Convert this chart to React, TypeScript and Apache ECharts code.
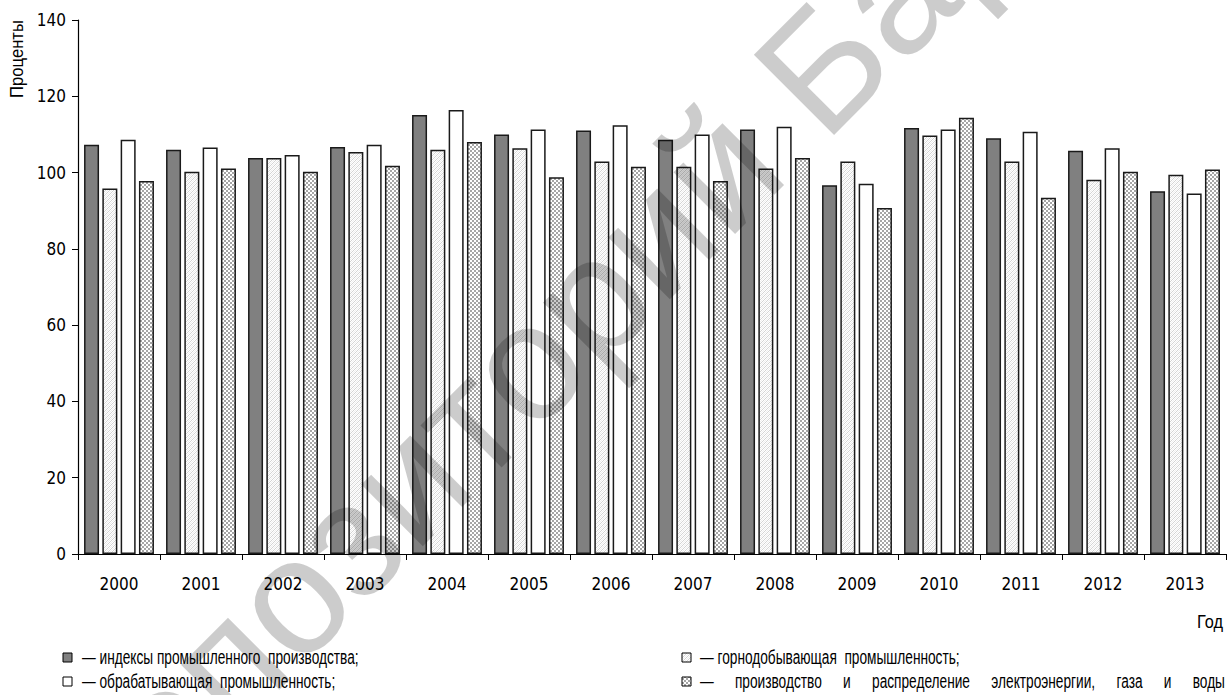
import React, { useEffect, useRef } from "react";
import * as echarts from "echarts";

const years = ["2000", "2001", "2002", "2003", "2004", "2005", "2006", "2007", "2008", "2009", "2010", "2011", "2012", "2013"];
const industrialIndex = [107.3, 106.0, 103.8, 106.7, 115.1, 110.0, 111.0, 108.6, 111.3, 96.7, 111.7, 109.0, 105.7, 95.1];
const mining = [95.8, 100.2, 103.8, 105.4, 106.0, 106.4, 102.9, 101.5, 101.1, 102.9, 109.7, 102.9, 98.1, 99.4];
const manufacturing = [108.6, 106.6, 104.6, 107.3, 116.4, 111.3, 112.4, 110.0, 112.0, 97.1, 111.3, 110.7, 106.4, 94.5];
const utilities = [97.8, 101.1, 100.2, 101.8, 108.0, 98.8, 101.5, 97.8, 103.8, 90.7, 114.4, 93.4, 100.2, 100.8];

const seriesNames = [
  "индексы промышленного производства",
  "горнодобывающая промышленность",
  "обрабатывающая промышленность",
  "производство и распределение электроэнергии, газа и воды",
];
const yMin = 0;
const yMax = 140;
const yStep = 20;
const yTitle = "Проценты";
const xTitle = "Год";
const legendLeft = ["— индексы промышленного  производства;", "— обрабатывающая  промышленность;"];
const legendRight1 = "— горнодобывающая  промышленность;";
const legendRight2 = ["—", "производство", "и", "распределение", "электроэнергии,", "газа", "и", "воды"];
const watermarkPrefix = "Репозиторий ";
const watermark = "Репозиторий БарГУ";

const AXIS_FONT = '"DejaVu Sans Condensed", "Liberation Sans", sans-serif';
const TXT_FONT = '"Liberation Sans", Arial, sans-serif';

function makePattern(kind: "light" | "check"): HTMLCanvasElement {
  const c = document.createElement("canvas");
  c.width = 4;
  c.height = 4;
  const ctx = c.getContext("2d")!;
  ctx.fillStyle = "#ffffff";
  ctx.fillRect(0, 0, 4, 4);
  if (kind === "check") {
    ctx.fillStyle = "#a6a6a6";
    ctx.fillRect(0, 0, 2, 2);
    ctx.fillRect(2, 2, 2, 2);
  } else {
    ctx.fillStyle = "#d4d4d4";
    for (let i = 0; i < 4; i++) ctx.fillRect(i, 3 - i, 1, 1);
    ctx.fillStyle = "#eeeeee";
    for (let i = 0; i < 4; i++) ctx.fillRect(i, (5 - i) % 4, 1, 1);
  }
  return c;
}

export default function App() {
  const ref = useRef<HTMLDivElement>(null);
  useEffect(() => {
    document.body.style.margin = "0";
    if (!ref.current) return;
    const chart = echarts.init(ref.current, undefined, { renderer: "svg" });
    const lightPat = { image: makePattern("light"), repeat: "repeat" } as any;
    const checkPat = { image: makePattern("check"), repeat: "repeat" } as any;
    const fills = ["#808080", lightPat, "#ffffff", checkPat];
    const datas = [industrialIndex, mining, manufacturing, utilities];

    const mc = document.createElement("canvas").getContext("2d")!;
    const measure = (t: string, size: number) => {
      mc.font = size + "px " + TXT_FONT;
      return mc.measureText(t).width;
    };
    const LF = 20;
    const s = (359 - 82) / measure(legendLeft[0], LF);
    const txt = (text: string, x: number, y: number) => ({
      type: "text",
      x,
      y,
      scaleX: s,
      style: { text, font: LF + "px " + TXT_FONT, fill: "#000", align: "left", verticalAlign: "middle" },
    });

    const x0 = 700;
    const x1 = 1225;
    const widths = legendRight2.map((w) => measure(w, LF) * s);
    const total = widths.reduce((a, b) => a + b, 0);
    const gap = (x1 - x0 - total) / (legendRight2.length - 1);
    const wordEls: any[] = [];
    let cx = x0;
    legendRight2.forEach((w, i) => {
      wordEls.push(txt(w, cx, 681));
      cx += widths[i] + gap;
    });

    const sq = (x: number, y: number, fill: any) => ({
      type: "rect",
      shape: { x, y, width: 9, height: 9 },
      style: { fill, stroke: "#000", lineWidth: 1 },
    });

    const ytW = measure(yTitle, 19);
    const gW = measure(xTitle, 19);

    const WF = 165;
    const theta = 0.785;
    mc.font = WF + "px " + TXT_FONT;
    const P = mc.measureText(watermarkPrefix).width;
    const wB = mc.measureText("Б").width;
    const d = P + wB / 2;
    const bC = [823, 66];
    const ax = bC[0] - d * Math.cos(theta);
    const ay = bC[1] + d * Math.sin(theta);

    chart.setOption({
      animation: false,
      grid: { left: 78, right: 3, top: 20, bottom: 141, containLabel: false },
      xAxis: {
        type: "category",
        data: years,
        boundaryGap: true,
        axisLine: { lineStyle: { color: "#000", width: 1.2 } },
        axisTick: { show: true, length: 6, lineStyle: { color: "#000" } },
        axisLabel: { color: "#000", fontSize: 17, fontFamily: AXIS_FONT, margin: 21 },
        splitLine: { show: false },
      },
      yAxis: {
        type: "value",
        min: yMin,
        max: yMax,
        interval: yStep,
        axisLine: { show: true, lineStyle: { color: "#000", width: 1.2 } },
        axisTick: { show: true, length: 6, lineStyle: { color: "#000" } },
        axisLabel: { color: "#000", fontSize: 17, fontFamily: AXIS_FONT, margin: 12 },
        splitLine: { show: false },
      },
      series: seriesNames.map((name, i) => ({
        name,
        type: "bar",
        data: datas[i],
        barWidth: 15,
        barGap: "22%",
        itemStyle: { color: fills[i], borderColor: "#1a1a1a", borderWidth: 1.5 },
      })),
      graphic: [
        {
          type: "text",
          x: 17,
          y: 59,
          rotation: Math.PI / 2,
          scaleX: 78 / ytW,
          style: { text: yTitle, font: "19px " + TXT_FONT, fill: "#000", align: "center", verticalAlign: "middle" },
        },
        {
          type: "text",
          x: 1197,
          y: 622,
          scaleX: 26 / gW,
          style: { text: xTitle, font: "19px " + TXT_FONT, fill: "#000", align: "left", verticalAlign: "middle" },
        },
        sq(63, 653, "#808080"),
        sq(63, 677, "#ffffff"),
        sq(682, 653, lightPat),
        sq(682, 677, checkPat),
        txt(legendLeft[0], 82, 657),
        txt(legendLeft[1], 82, 681),
        txt(legendRight1, 700, 657),
        ...wordEls,
        {
          type: "text",
          x: ax,
          y: ay,
          z: 100,
          rotation: theta,
          style: {
            text: watermark,
            font: WF + "px " + TXT_FONT,
            fill: "rgba(0,0,0,0.2)",
            align: "left",
            verticalAlign: "middle",
          },
        },
      ],
    });
    return () => chart.dispose();
  }, []);
  return <div ref={ref} style={{ width: 1229, height: 695 }} />;
}
